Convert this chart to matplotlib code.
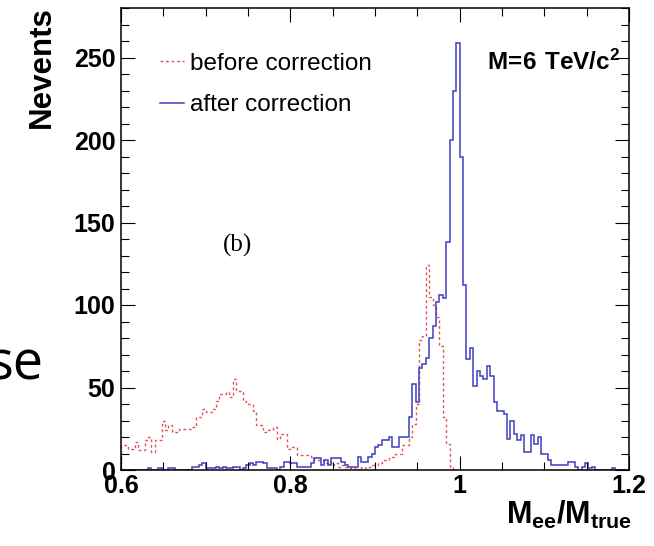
import numpy as np
import matplotlib
matplotlib.use("Agg")
import matplotlib.pyplot as plt
from matplotlib.ticker import MultipleLocator, FuncFormatter

# 150 bins over 0.6 .. 1.2 (width 0.004)
X_LO, X_HI, NBINS = 0.6, 1.2, 150

# after correction (blue), counts per bin
after_counts = [
    0, 0, 0, 0, 0, 0, 0, 0, 1, 0,
    0, 1, 0, 0, 1, 1, 0, 0, 0, 0,
    0, 2, 2, 3, 4, 1, 1, 1, 2, 1,
    2, 1, 1, 2, 2, 0, 1, 3, 4, 3,
    5, 5, 4, 1, 1, 1, 0, 2, 5, 5,
    4, 4, 2, 2, 2, 2, 4, 7, 7, 3,
    6, 3, 7, 7, 7, 5, 3, 2, 2, 2,
    8, 5, 5, 8, 10, 14, 15, 18, 18, 20,
    14, 14, 20, 20, 20, 32, 52, 41, 62, 64,
    68, 80, 87, 102, 106, 104, 138, 200, 230, 259,
    190, 112, 67, 74, 51, 60, 57, 55, 63, 57,
    41, 36, 36, 34, 19, 30, 22, 18, 21, 11,
    11, 21, 16, 20, 10, 10, 6, 3, 3, 3,
    3, 3, 5, 5, 2, 0, 2, 4, 1, 2,
    0, 0, 0, 0, 0, 1, 0, 0, 0, 0,
]

# before correction (red, dotted), counts per bin
before_counts = [
    15, 15, 13, 13, 17, 12, 12, 18, 20, 11,
    18, 18, 30, 24, 27, 23, 23, 25, 25, 25,
    25, 26, 32, 32, 37, 35, 35, 37, 42, 46,
    46, 47, 44, 55, 48, 48, 42, 40, 40, 36,
    27, 27, 23, 24, 24, 26, 19, 22, 22, 13,
    14, 14, 9, 9, 9, 9, 8, 6, 6, 6,
    4, 5, 3, 4, 2, 3, 2, 1, 2, 1,
    0, 2, 1, 2, 3, 3, 4, 6, 6, 8,
    8, 10, 10, 15, 15, 20, 28, 40, 79, 81,
    124, 105, 100, 93, 75, 32, 16, 2, 0, 0,
    0, 0, 0, 0, 0, 0, 0, 0, 0, 0,
    0, 0, 0, 0, 0, 0, 0, 0, 0, 0,
    0, 0, 0, 0, 0, 0, 0, 0, 0, 0,
    0, 0, 0, 0, 0, 0, 0, 0, 0, 0,
    0, 0, 0, 0, 0, 0, 0, 0, 0, 0,
]

BLUE, RED = "#3f3fbf", "#dd5555"

plt.rcParams["font.family"] = ["Liberation Sans", "DejaVu Sans"]
plt.rcParams["mathtext.fontset"] = "custom"
plt.rcParams["mathtext.rm"] = "Liberation Sans"
plt.rcParams["mathtext.bf"] = "Liberation Sans:bold"

edges = np.linspace(X_LO, X_HI, NBINS + 1)

fig = plt.figure(figsize=(6.54, 5.46), dpi=100)
ax = fig.add_axes([121 / 654, 1 - 470 / 546, 508 / 654, 462 / 546])

ax.stairs(before_counts, edges, color=RED, lw=1.0, linestyle=(0, (2, 2)),
          label="before correction")
ax.stairs(after_counts, edges, color=BLUE, lw=1.1, label="after correction")

ax.set_xlim(X_LO, X_HI)
ax.set_ylim(0, 280)
ax.xaxis.set_major_locator(MultipleLocator(0.2))
ax.xaxis.set_minor_locator(MultipleLocator(0.05))
ax.yaxis.set_major_locator(MultipleLocator(50))
ax.yaxis.set_minor_locator(MultipleLocator(10))
ax.xaxis.set_major_formatter(FuncFormatter(lambda v, p: f"{v:g}"))
ax.tick_params(which="both", direction="in", top=True, right=True, width=0.8)
ax.tick_params(which="major", length=10, labelsize=18)
ax.tick_params(which="minor", length=5.5)
ax.tick_params(axis="x", pad=3)
ax.tick_params(axis="y", pad=4)
for lb in ax.get_xticklabels() + ax.get_yticklabels():
    lb.set_fontweight("bold")
for sp in ax.spines.values():
    sp.set_linewidth(1.1)

ax.legend(loc="upper left", bbox_to_anchor=(0.077, 0.903), frameon=False,
          fontsize=17.5, handlelength=1.0, handletextpad=0.25, labelspacing=0.8,
          borderpad=0, borderaxespad=0)

ax.text(0.72, 0.883, r"$\mathbf{M\!=\!6\ TeV/c^{2}}$", transform=ax.transAxes,
        fontsize=17.5, va="center", ha="left")
ax.text(0.23, 0.487, "(b)", transform=ax.transAxes, fontsize=18,
        family="Liberation Serif", ha="center", va="center")

fig.text(42 / 654, 1 - 6 / 546, "Nevents", rotation=90, ha="center", va="top",
         fontsize=22.5, fontweight="bold")
fig.text(632 / 654, 1 - 524 / 546,
         r"$\mathbf{M}_{\mathbf{ee}}\mathbf{/M}_{\mathbf{true}}$",
         ha="right", va="baseline", fontsize=22)
# fragment of slide text that sits at the left edge in the source image
fig.text(43 / 654, 1 - 379 / 546, "se", ha="right", va="baseline",
         fontsize=39, family="Open Sans")

fig.savefig("out.png", dpi=100)
